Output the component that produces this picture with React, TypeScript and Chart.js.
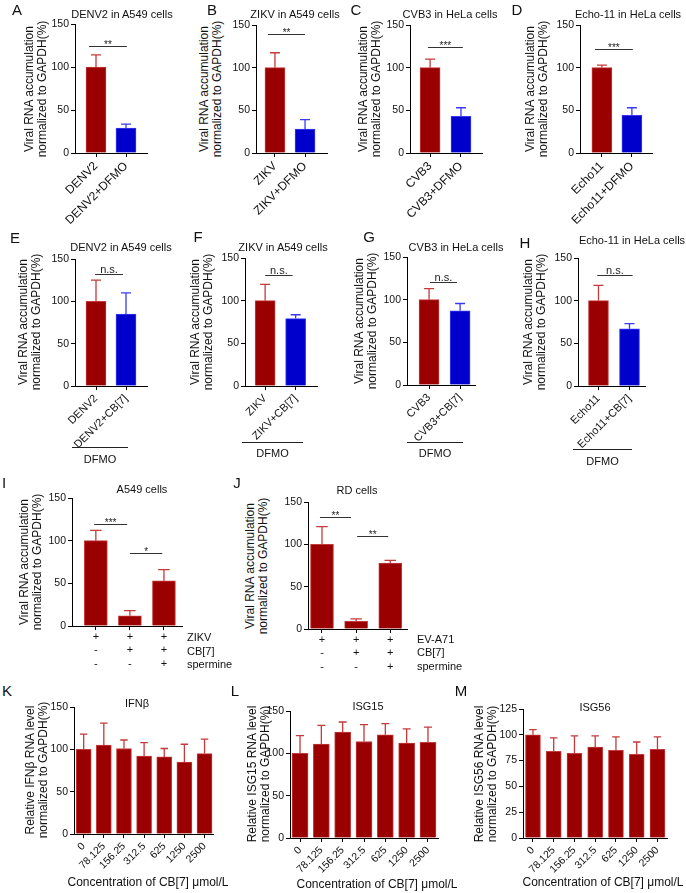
import React, { useEffect, useRef } from 'react';
import { Chart, registerables } from 'chart.js';
Chart.register(...registerables);

const FONT = '"Liberation Sans", Arial, Helvetica, sans-serif';
const RED = '#9B0000';
const RED_ERR = '#C53A3A';
const BLUE = '#0000CC';
const BLUE_ERR = '#3A3AF5';

// ---------- data ----------
const catsA = ['DENV2', 'DENV2+DFMO'];
const valsA = [100, 29];
const errsA = [14, 4.5];
const sigA = [[0.77, 2.03, 124, '**']];

const catsB = ['ZIKV', 'ZIKV+DFMO'];
const valsB = [100, 28];
const errsB = [17.5, 11];
const sigB = [[0.77, 2.0, 140, '**']];

const catsC = ['CVB3', 'CVB3+DFMO'];
const valsC = [100, 43];
const errsC = [10, 10];
const sigC = [[0.93, 2.06, 124, '***']];

const catsD = ['Echo11', 'Echo11+DFMO'];
const valsD = [100, 44];
const errsD = [3, 9];
const sigD = [[0.77, 2.03, 122, '***']];

const catsE = ['DENV2', 'DENV2+CB[7]'];
const valsE = [100, 85];
const errsE = [25, 25];
const sigE = [[0.97, 1.9, 132, 'n.s.']];

const catsF = ['ZIKV', 'ZIKV+CB[7]'];
const valsF = [100, 79];
const errsF = [19, 4.5];
const sigF = [[1.0, 1.9, 130, 'n.s.']];

const catsG = ['CVB3', 'CVB3+CB[7]'];
const valsG = [100, 87];
const errsG = [13, 8.5];
const sigG = [[1.03, 1.9, 121, 'n.s.']];

const catsH = ['Echo11', 'Echo11+CB[7]'];
const valsH = [100, 67];
const errsH = [18, 6];
const sigH = [[0.96, 2.1, 130, 'n.s.']];

const rowsI = ['ZIKV', 'CB[7]', 'spermine'];
const rowsJ = ['EV-A71', 'CB[7]', 'spermine'];
const virusRow = ['+', '+', '+'];
const cb7Row = ['-', '+', '+'];
const spermineRow = ['-', '-', '+'];
const valsI = [100, 12, 53];
const errsI = [12, 6, 13];
const sigI = [[0.95, 1.92, 120, '***'], [2.0, 2.95, 85, '*']];
const valsJ = [100, 9, 78];
const errsJ = [21, 3, 3];
const sigJ = [[0.94, 1.85, 132, '**'], [2.03, 2.94, 110, '**']];

const concentrations = ['0', '78.125', '156.25', '312.5', '625', '1250', '2500'];
const valsK = [100, 105, 101, 92, 91, 85, 95];
const errsK = [18, 26, 10, 16, 10, 21, 17];
const valsL = [100, 111, 125, 114, 122, 112, 113];
const errsL = [21, 22, 12, 20, 13, 17, 18];
const valsM = [100, 84, 82, 88, 85, 81, 86];
const errsM = [5, 13, 17, 11, 13, 12, 12];

const yTicks150 = [0, 50, 100, 150];
const yTicks125 = [0, 25, 50, 75, 100, 125];

// ---------- plugin: error bars + significance ----------
const annotPlugin = {
  id: 'annot',
  afterDatasetsDraw(chart: any, _args: any, opts: any) {
    const ctx = chart.ctx;
    const xs = chart.scales.x;
    const ys = chart.scales.y;
    const meta = chart.getDatasetMeta(0);
    const vals: number[] = opts.vals || [];
    const errs: number[] = opts.errs || [];
    const ecol: string[] = opts.errColors || [];
    ctx.save();
    meta.data.forEach((el: any, i: number) => {
      const e = errs[i];
      if (!e) return;
      const yBar = ys.getPixelForValue(vals[i]);
      const yTop = ys.getPixelForValue(vals[i] + e);
      const cw = el.width * 0.5;
      ctx.strokeStyle = ecol[i];
      ctx.lineWidth = 1.3;
      ctx.beginPath();
      ctx.moveTo(el.x, yBar);
      ctx.lineTo(el.x, yTop);
      ctx.moveTo(el.x - cw / 2, yTop);
      ctx.lineTo(el.x + cw / 2, yTop);
      ctx.stroke();
    });
    (opts.sig || []).forEach((s: any[]) => {
      const x1 = xs.getPixelForValue(s[0]);
      const x2 = xs.getPixelForValue(s[1]);
      const y = Math.round(ys.getPixelForValue(s[2])) + 0.5;
      ctx.strokeStyle = '#333';
      ctx.lineWidth = 1;
      ctx.beginPath();
      ctx.moveTo(x1, y);
      ctx.lineTo(x2, y);
      ctx.stroke();
      ctx.fillStyle = '#222';
      ctx.textAlign = 'center';
      ctx.textBaseline = 'alphabetic';
      if (s[3] === 'n.s.') {
        ctx.font = '11px ' + FONT;
        ctx.fillText(s[3], (x1 + x2) / 2, y - 2);
      } else {
        ctx.font = '10px ' + FONT;
        ctx.fillText(s[3], (x1 + x2) / 2, y + 1.5);
      }
    });
    ctx.restore();
  },
};

type Panel = {
  cats: any[];
  vals: number[];
  errs: number[];
  colors: string[];
  errColors: string[];
  sig: any[];
  yTicks: number[];
  axisX: number;
  top: number;
  bottom: number;
  right: number;
  xmin: number;
  xmax: number;
  barT: number;
  xH: number;
  rot: number;
  tickSize: number;
};

const YW = 32;
const PAD_TOP = 10;
const PAD_RIGHT = 14;

function BarPanel({ p }: { p: Panel }) {
  const ref = useRef<HTMLCanvasElement>(null);
  const w = YW + (p.right - p.axisX) + PAD_RIGHT;
  const h = PAD_TOP + (p.bottom - p.top) + p.xH;
  useEffect(() => {
    const axisGrid = {
      display: true,
      drawOnChartArea: false,
      drawTicks: true,
      tickLength: 4,
      color: '#000',
      lineWidth: 1,
      offset: false,
    };
    const chart = new Chart(ref.current as HTMLCanvasElement, {
      type: 'bar',
      data: {
        datasets: [
          {
            data: p.vals.map((v, i) => ({ x: i + 1, y: v })),
            backgroundColor: p.colors,
            borderColor: p.errColors,
            borderWidth: 1,
            barThickness: p.barT,
          },
        ],
      },
      options: {
        responsive: false,
        animation: false,
        devicePixelRatio: 1,
        layout: { padding: { top: PAD_TOP, right: PAD_RIGHT, left: 0, bottom: 0 } },
        plugins: {
          legend: { display: false },
          tooltip: { enabled: false },
          annot: { vals: p.vals, errs: p.errs, errColors: p.errColors, sig: p.sig },
        } as any,
        scales: {
          x: {
            type: 'linear',
            min: p.xmin,
            max: p.xmax,
            offset: false,
            afterBuildTicks: (s: any) => {
              s.ticks = p.cats.map((_: any, i: number) => ({ value: i + 1 }));
            },
            afterFit: (s: any) => {
              s.height = p.xH;
            },
            ticks: {
              autoSkip: false,
              minRotation: p.rot,
              maxRotation: p.rot,
              padding: p.rot ? 2 : 0,
              color: '#111',
              font: { family: FONT, size: p.tickSize, lineHeight: 1.23 },
              callback: (_v: any, i: number) => p.cats[i],
            },
            grid: axisGrid,
            border: { display: true, color: '#000', width: 1 },
          },
          y: {
            type: 'linear',
            min: 0,
            max: p.yTicks[p.yTicks.length - 1],
            afterBuildTicks: (s: any) => {
              s.ticks = p.yTicks.map((v) => ({ value: v }));
            },
            afterFit: (s: any) => {
              s.width = YW;
            },
            ticks: {
              padding: 2,
              color: '#111',
              font: { family: FONT, size: 10.5 },
            },
            grid: axisGrid,
            border: { display: true, color: '#000', width: 1 },
          },
        } as any,
      },
      plugins: [annotPlugin as any],
    });
    return () => chart.destroy();
  }, []);
  return (
    <canvas
      ref={ref}
      width={w}
      height={h}
      style={{ position: 'absolute', left: p.axisX - YW, top: p.top - PAD_TOP, width: w, height: h }}
    />
  );
}

function T({
  x,
  y,
  s,
  size = 11,
  left = false,
}: {
  x: number;
  y: number;
  s: string;
  size?: number;
  left?: boolean;
}) {
  return (
    <div
      style={{
        position: 'absolute',
        left: x,
        top: y,
        transform: `translate(${left ? '0' : '-50%'}, -50%)`,
        fontSize: size,
        fontFamily: FONT,
        whiteSpace: 'pre',
        lineHeight: 'normal',
        textAlign: 'center',
        color: '#111',
      }}
    >
      {s}
    </div>
  );
}

// rotated two-line axis title, box of integer size centred on (cx, cy)
function VT({ cx, cy, s }: { cx: number; cy: number; s: string }) {
  const W = 170;
  const H = 26;
  return (
    <div
      style={{
        position: 'absolute',
        left: cx - W / 2,
        top: cy - H / 2,
        width: W,
        height: H,
        transform: 'rotate(-90deg)',
        transformOrigin: '50% 50%',
        fontSize: 12,
        lineHeight: '13px',
        fontFamily: FONT,
        whiteSpace: 'pre',
        textAlign: 'center',
        color: '#111',
      }}
    >
      {s}
    </div>
  );
}

const RB = [RED, BLUE];
const RBE = [RED_ERR, BLUE_ERR];
const R3 = [RED, RED, RED];
const R3E = [RED_ERR, RED_ERR, RED_ERR];
const R7 = concentrations.map(() => RED);
const R7E = concentrations.map(() => RED_ERR);
const colsIJ = virusRow.map((v, i) => [v, cb7Row[i], spermineRow[i]]);

const two = (cats: string[], vals: number[], errs: number[], sig: any[], g: number[], ts: number): Panel => ({
  cats, vals, errs, colors: RB, errColors: RBE, sig, yTicks: yTicks150,
  axisX: g[0], top: g[1], bottom: g[2], right: g[3], xmin: g[4], xmax: g[5],
  barT: 20, xH: 72, rot: 45, tickSize: ts,
});

const panels: Panel[] = [
  two(catsA, valsA, errsA, sigA, [75, 24, 153, 147, 0.3, 2.7], 12),
  two(catsB, valsB, errsB, sigB, [256, 25, 153, 327, 0.37, 2.73], 12),
  two(catsC, valsC, errsC, sigC, [410, 25, 153, 482, 0.35, 2.68], 12),
  two(catsD, valsD, errsD, sigD, [580, 25, 153, 652, 0.27, 2.67], 12),
  two(catsE, valsE, errsE, sigE, [75, 259, 386, 147, 0.3, 2.7], 11),
  two(catsF, valsF, errsF, sigF, [245, 258, 386, 317, 0.34, 2.7], 11),
  two(catsG, valsG, errsG, sigG, [407, 257, 385, 475, 0.29, 2.48], 11),
  two(catsH, valsH, errsH, sigH, [578, 258, 386, 645, 0.34, 2.5], 11),
  {
    cats: colsIJ, vals: valsI, errs: errsI, colors: R3, errColors: R3E, sig: sigI, yTicks: yTicks150,
    axisX: 72, top: 498, bottom: 626, right: 182, xmin: 0.3, xmax: 3.53, barT: 23, xH: 50, rot: 0, tickSize: 11,
  },
  {
    cats: colsIJ, vals: valsJ, errs: errsJ, colors: R3, errColors: R3E, sig: sigJ, yTicks: yTicks150,
    axisX: 308, top: 502, bottom: 629, right: 407, xmin: 0.59, xmax: 3.49, barT: 23, xH: 50, rot: 0, tickSize: 11,
  },
  {
    cats: concentrations, vals: valsK, errs: errsK, colors: R7, errColors: R7E, sig: [], yTicks: yTicks150,
    axisX: 74, top: 707, bottom: 834, right: 213, xmin: 0.52, xmax: 7.42, barT: 15, xH: 45, rot: 45, tickSize: 10.5,
  },
  {
    cats: concentrations, vals: valsL, errs: errsL, colors: R7, errColors: R7E, sig: [], yTicks: yTicks150,
    axisX: 290, top: 711, bottom: 838, right: 438, xmin: 0.53, xmax: 7.47, barT: 16, xH: 45, rot: 45, tickSize: 10.5,
  },
  {
    cats: concentrations, vals: valsM, errs: errsM, colors: R7, errColors: R7E, sig: [], yTicks: yTicks125,
    axisX: 523, top: 709, bottom: 838, right: 667, xmin: 0.52, xmax: 7.46, barT: 15, xH: 45, rot: 45, tickSize: 10.5,
  },
];

const VIRAL = 'Viral RNA accumulation\nnormalized to GAPDH(%)';
const yTitles: [number, number, string][] = [
  [36, 89, VIRAL],
  [211, 89, VIRAL],
  [370, 89, VIRAL],
  [537, 89, VIRAL],
  [30, 322, VIRAL],
  [202, 322, VIRAL],
  [366, 321, VIRAL],
  [535, 322, VIRAL],
  [31, 562, VIRAL],
  [257, 566, VIRAL],
  [37, 770, 'Relative IFNβ RNA level\nnormalized to GAPDH(%)'],
  [259, 774, 'Relative ISG15 RNA level\nnormalized to GAPDH(%)'],
  [486, 774, 'Relative ISG56 RNA level\nnormalized to GAPDH(%)'],
];

const titles: [number, number, string][] = [
  [122, 14, 'DENV2 in A549 cells'],
  [295, 14, 'ZIKV in A549 cells'],
  [450, 14, 'CVB3 in HeLa cells'],
  [628, 14, 'Echo-11 in HeLa cells'],
  [121, 247, 'DENV2 in A549 cells'],
  [283, 247, 'ZIKV in A549 cells'],
  [456, 247, 'CVB3 in HeLa cells'],
  [632, 240, 'Echo-11 in HeLa cells'],
  [142, 489, 'A549 cells'],
  [357, 490, 'RD cells'],
  [137, 703, 'IFNβ'],
  [368, 706, 'ISG15'],
  [595, 707, 'ISG56'],
];

const letters: [number, number, string][] = [
  [17, 9, 'A'], [212, 9, 'B'], [356, 9, 'C'], [517, 9, 'D'],
  [15, 237, 'E'], [198, 236, 'F'], [369, 236, 'G'], [525, 242, 'H'],
  [4, 482, 'I'], [237, 482, 'J'],
  [7, 690, 'K'], [235, 690, 'L'], [461, 690, 'M'],
];

const dfmo: [number, number, number, number][] = [
  [72, 128, 447, 459],
  [242, 303, 442, 453],
  [407, 463, 442, 453],
  [573, 632, 449, 461],
];

const xTitles: [number, number][] = [
  [148, 882],
  [377, 884],
  [603, 882],
];

export default function App() {
  return (
    <div style={{ position: 'absolute', left: 0, top: 0, width: 686, height: 893, background: '#fff', overflow: 'hidden' }}>
      {panels.map((p, i) => (
        <BarPanel key={i} p={p} />
      ))}
      {yTitles.map(([x, y, s], i) => (
        <VT key={'yt' + i} cx={x} cy={y} s={s} />
      ))}
      {titles.map(([x, y, s], i) => (
        <T key={'t' + i} x={x} y={y} s={s} size={11} />
      ))}
      {letters.map(([x, y, s], i) => (
        <T key={'l' + i} x={x} y={y} s={s} size={15} />
      ))}
      {dfmo.map(([x1, x2, yl, yt], i) => (
        <React.Fragment key={'d' + i}>
          <div style={{ position: 'absolute', left: x1, top: yl, width: x2 - x1, height: 1, background: '#222' }} />
          <T x={(x1 + x2) / 2} y={yt} s="DFMO" size={11} />
        </React.Fragment>
      ))}
      {rowsI.map((s, i) => (
        <T key={'ri' + i} x={187} y={[637, 651, 664][i]} s={s} size={11} left />
      ))}
      {rowsJ.map((s, i) => (
        <T key={'rj' + i} x={417} y={[639, 652, 666][i]} s={s} size={11} left />
      ))}
      {xTitles.map(([x, y], i) => (
        <T key={'xt' + i} x={x} y={y} s="Concentration of CB[7] μmol/L" size={12} />
      ))}
    </div>
  );
}
